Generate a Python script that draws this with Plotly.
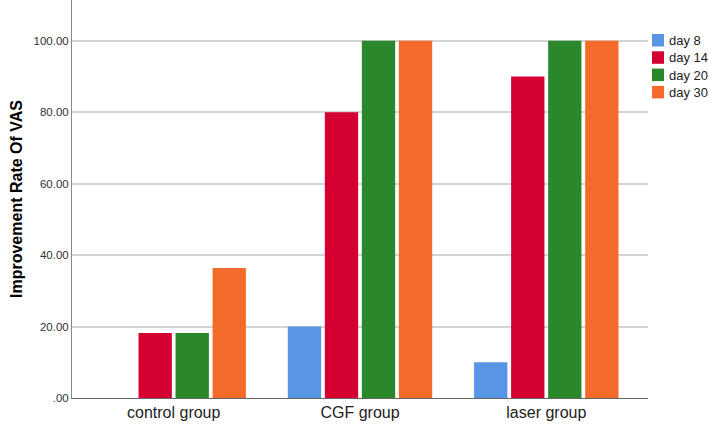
import plotly.graph_objects as go

groups = ['control group', 'CGF group', 'laser group']
day8 = [0, 20.0, 10.0]
day14 = [18.18, 80.0, 90.0]
day20 = [18.18, 100.0, 100.0]
day30 = [36.36, 100.0, 100.0]

series = [('day 8', day8, '#5895E5'),
          ('day 14', day14, '#D50032'),
          ('day 20', day20, '#2A882A'),
          ('day 30', day30, '#F46A2A')]

tick_vals = [0, 20, 40, 60, 80, 100]
tick_text = ['.00', '20.00', '40.00', '60.00', '80.00', '100.00']

W, H = 709, 425
L, R, T, B = 72, 61, 0, 27
pw, ph = W - L - R, H - T - B

fig = go.Figure()
for name, vals, color in series:
    fig.add_trace(go.Bar(x=groups, y=vals, name=name, showlegend=False,
                         marker=dict(color=color, line=dict(width=0))))

# legend drawn by hand (SPSS style: small squares, tight text)
for i, (name, vals, color) in enumerate(series):
    top = 34 + i * 17.3
    fig.add_shape(type='rect', xref='paper', yref='paper',
                  x0=(652 - L) / pw, x1=(664 - L) / pw,
                  y0=1 - (top + 12.5) / ph, y1=1 - top / ph,
                  fillcolor=color, line=dict(width=0))
    fig.add_annotation(text=name, xref='paper', yref='paper',
                       x=(667 - L) / pw, y=1 - (top + 6.5) / ph,
                       xanchor='left', yanchor='middle', showarrow=False,
                       font=dict(size=13, color='#222'))

fig.update_layout(
    width=W, height=H,
    margin=dict(l=L, r=R, t=T, b=B),
    plot_bgcolor='white', paper_bgcolor='white',
    barmode='group', bargap=0.205, bargroupgap=0.1,
    font=dict(family='Arial, Liberation Sans, sans-serif', color='#222'),
    showlegend=False,
)
fig.update_xaxes(range=[-0.546, 2.546], showline=True, linecolor='#666',
                 linewidth=1, ticks='', tickfont=dict(size=16, color='#222'),
                 showgrid=False)
fig.update_yaxes(range=[0, 111.4], tickvals=tick_vals, ticktext=tick_text,
                 showgrid=True, gridcolor='#D3D3D3', gridwidth=1.5,
                 showline=True, linecolor='#888', linewidth=1,
                 zeroline=False, tickfont=dict(size=11.5, color='#333'),
                 title=dict(text='<b>Improvement Rate Of VAS</b>',
                            font=dict(size=16, color='#000'), standoff=6))

fig.write_html("out.html", config={'displayModeBar': False},
               post_script="document.body.style.margin='0';")
